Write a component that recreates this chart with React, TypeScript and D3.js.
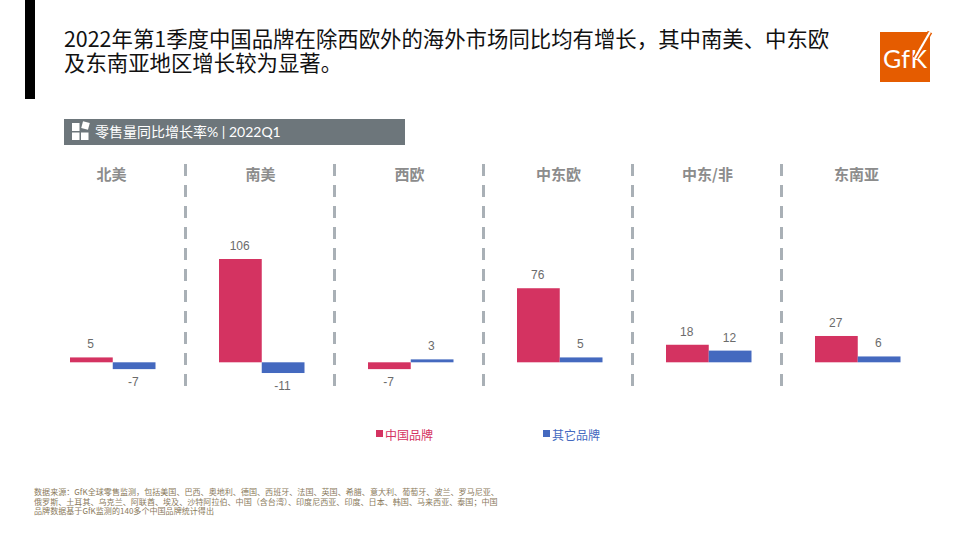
import React from 'react';
import * as d3 from 'd3';

const regions = ['北美', '南美', '西欧', '中东欧', '中东/非', '东南亚'];
const chinaBrands = [5, 106, -7, 76, 18, 27];
const otherBrands = [-7, -11, 3, 5, 12, 6];
const seriesNames = ['中国品牌', '其它品牌'];
const seriesColors = ['#d43361', '#4469bf'];
const titleLines = [
  '2022年第1季度中国品牌在除西欧外的海外市场同比均有增长，其中南美、中东欧',
  '及东南亚地区增长较为显著。',
];
const sourceLines = [
  '数据来源：GfK全球零售监测，包括美国、巴西、奥地利、德国、西班牙、法国、英国、希腊、意大利、葡萄牙、波兰、罗马尼亚、',
  '俄罗斯、土耳其、乌克兰、阿联酋、埃及、沙特阿拉伯、中国（含台湾）、印度尼西亚、印度、日本、韩国、马来西亚、泰国；中国',
  '品牌数据基于GfK监测的140多个中国品牌统计得出',
];

const cjk = '"Noto Sans CJK SC", "Noto Sans", sans-serif';
const labelFont = '"Liberation Sans", Arial, sans-serif';

export default function App() {
  const panel = d3.scaleBand<string>().domain(regions).range([38, 932]);
  const series = d3.scaleBand<string>().domain(seriesNames).range([32, 117.5]);
  const y = d3.scaleLinear().domain([0, 106]).range([362.3, 259]);
  const values = [chinaBrands, otherBrands];

  return (
    <svg
      width={960}
      height={540}
      style={{ position: 'absolute', left: 0, top: 0, background: '#fff' }}
    >
      <rect x={25} y={0} width={10} height={99} fill="#000" />
      {titleLines.map((line, i) => (
        <text key={i} x={64} y={46.5 + i * 24.5} fontFamily={cjk} fontSize={21.4} fill="#111">
          {line}
        </text>
      ))}

      {/* logo */}
      <rect x={880} y={32} width={50} height={50} fill="#e55c00" />
      <text x={883} y={68} fontFamily="Lato, sans-serif" fontSize={25} letterSpacing={0.5} fill="#fff">
        GfK
      </text>
      <line x1={930} y1={32} x2={915} y2={58} stroke="#e55c00" strokeWidth={5} />
      <line x1={930} y1={32} x2={915} y2={58} stroke="#fff" strokeWidth={2.2} />

      {/* subtitle band */}
      <rect x={64} y={119} width={341} height={26} fill="#6d767b" />
      <g fill="#fff">
        <rect x={72} y={123} width={7.5} height={8} />
        <rect x={72} y={132.5} width={7.5} height={7.5} />
        <rect x={81} y={132.5} width={7.5} height={7.5} />
        <rect x={82} y={122} width={7} height={7} transform="rotate(15 85.5 125.5)" />
      </g>
      <text x={95} y={137} fontFamily={`Lato, ${cjk}`} fontSize={14} fill="#fff">
        零售量同比增长率% | 2022Q1
      </text>

      {/* dividers */}
      {regions.slice(1).map((r) => (
        <line
          key={r}
          x1={panel(r)! - 1.5}
          x2={panel(r)! - 1.5}
          y1={164}
          y2={386}
          stroke="#a9b0b6"
          strokeWidth={3}
          strokeDasharray="12 9"
        />
      ))}

      {regions.map((r, i) => (
        <g key={r} transform={`translate(${panel(r)},0)`}>
          <text
            x={panel.bandwidth() / 2 - 1}
            y={180}
            textAnchor="middle"
            fontFamily={cjk}
            fontWeight={700}
            fontSize={15}
            fill="#8c8c8c"
          >
            {r}
          </text>
          {seriesNames.map((s, j) => {
            const v = values[j][i];
            const top = y(Math.max(v, 0));
            const bottom = y(Math.min(v, 0));
            return (
              <g key={s}>
                <rect
                  x={series(s)}
                  y={top}
                  width={series.bandwidth()}
                  height={bottom - top}
                  fill={seriesColors[j]}
                />
                <text
                  x={series(s)! + series.bandwidth() / 2 - 0.7}
                  y={v < 0 ? bottom + 17 : top - 9}
                  textAnchor="middle"
                  fontFamily={labelFont}
                  fontSize={12}
                  fill="#6b6b6b"
                >
                  {v}
                </text>
              </g>
            );
          })}
        </g>
      ))}

      {/* legend */}
      {seriesNames.map((s, j) => (
        <g key={s} transform={`translate(${376 + j * 167},0)`}>
          <rect x={0} y={430} width={7} height={7} fill={seriesColors[j]} />
          <text x={9} y={440} fontFamily={cjk} fontSize={12} fill={seriesColors[j]}>
            {s}
          </text>
        </g>
      ))}

      {/* source */}
      {sourceLines.map((line, i) => (
        <text key={i} x={34} y={495 + i * 9.6} fontFamily={cjk} fontSize={8.07} fill="#8a7a5c">
          {line}
        </text>
      ))}
    </svg>
  );
}
